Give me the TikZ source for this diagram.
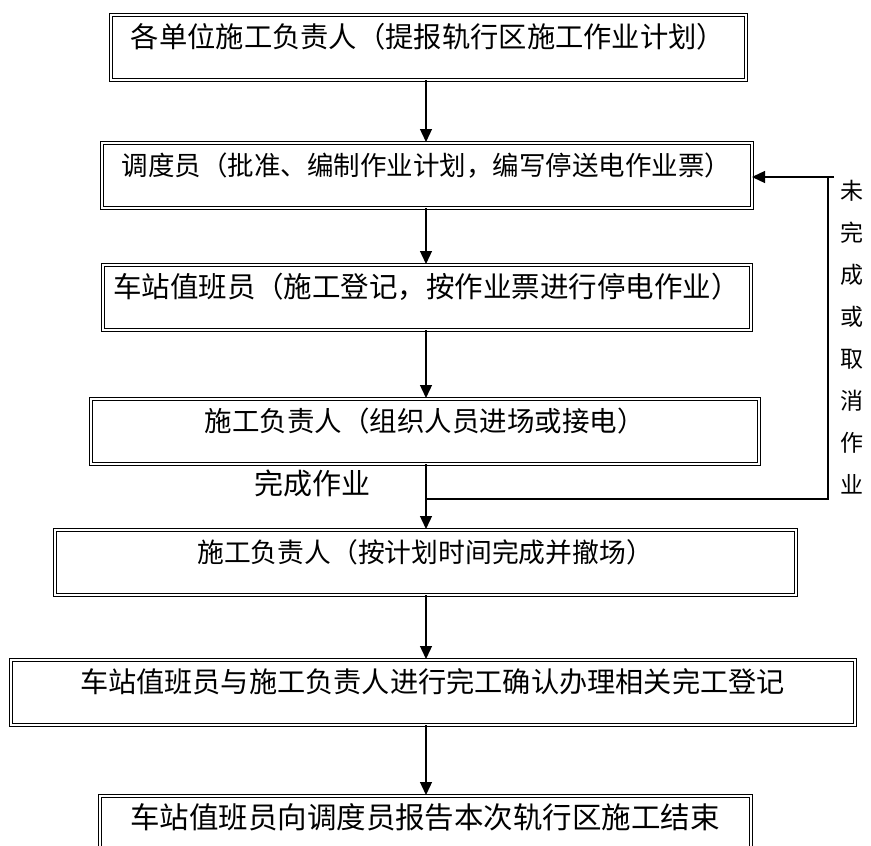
\documentclass[tikz,border=0pt]{standalone}
\usepackage{fontspec}
\setmainfont{Noto Sans CJK SC}
\usetikzlibrary{arrows.meta}
\tikzset{
  flowbox/.style={draw, line width=1pt, double=white, double distance=2pt,
    rectangle, anchor=north west, inner xsep=0pt, inner ysep=0pt,
    text height=33pt, text depth=32pt, align=center},
  conn/.style={line width=1.3pt},
  arr/.style={line width=1.3pt, -{Triangle[length=13pt,width=12pt]}},
}
\newcommand{\fsz}[1]{\fontsize{#1}{#1}\selectfont}
\begin{document}
\begin{tikzpicture}[x=1pt,y=-1pt]
\clip (0,0) rectangle (871,846);
\fill[white] (0,0) rectangle (871,846);
\node[flowbox, minimum width=635pt] (b1) at (110,14) {\fsz{28.3}各单位施工负责人（提报轨行区施工作业计划）};
\node[flowbox, minimum width=650pt] (b2) at (101,142) {\fsz{26.5}调度员（批准、编制作业计划，编写停送电作业票）};
\node[flowbox, minimum width=648pt] (b3) at (102,264) {\fsz{28.5}车站值班员（施工登记，按作业票进行停电作业）};
\node[flowbox, minimum width=668pt] (b4) at (90,398) {\fsz{27.5}施工负责人（组织人员进场或接电）};
\node[flowbox, minimum width=741pt] (b5) at (54,529) {\fsz{26.8}施工负责人（按计划时间完成并撤场）};
\node[flowbox, minimum width=844pt] (b6) at (10,659) {\fsz{28.2}车站值班员与施工负责人进行完工确认办理相关完工登记};
\node[flowbox, minimum width=651pt, text depth=40pt] (b7) at (99,795) {\fsz{29.5}车站值班员向调度员报告本次轨行区施工结束};
\node[inner sep=0pt] (done) at (312,483) {\fsz{29}完成作业};
\node[inner sep=0pt, align=center, anchor=north, font={\fontsize{23}{42}\selectfont}] (side) at (852,180) {未\\完\\成\\或\\取\\消\\作\\业};
\coordinate (ax) at (426,0);
\coordinate (fb) at (426,499);
\coordinate (fbr) at (828,499);
\coordinate (ftr) at (828,177);
\coordinate (fte) at (834,177);
\draw[arr] (b1.south -| ax) -- (b2.north -| ax);
\draw[arr] (b2.south -| ax) -- (b3.north -| ax);
\draw[arr] (b3.south -| ax) -- (b4.north -| ax);
\draw[arr] (b4.south -| ax) -- (b5.north -| ax);
\draw[arr] (b5.south -| ax) -- (b6.north -| ax);
\draw[arr] (b6.south -| ax) -- (b7.north -| ax);
\draw[conn] (fb) -- (fbr) -- (ftr);
\draw[arr] (fte) -- (b2.east |- fte);
\end{tikzpicture}
\end{document}
